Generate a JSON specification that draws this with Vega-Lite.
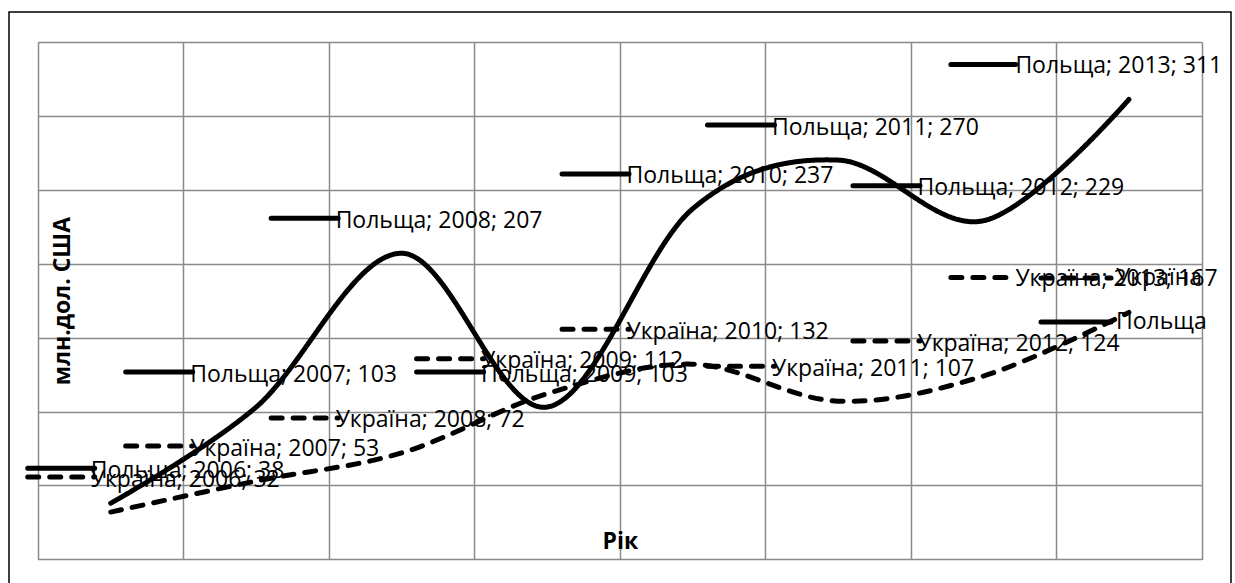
{
  "$schema": "https://vega.github.io/schema/vega-lite/v6.json",
  "width": 1222,
  "height": 575,
  "autosize": {"type": "none"},
  "padding": {"left": 9, "top": 12, "right": 4, "bottom": -4},
  "background": "white",
  "config": {
    "font": "Open Sans",
    "view": {"stroke": "black", "strokeWidth": 1.5},
    "axis": {"gridColor": "#8a8a8a", "gridWidth": 1.5, "gridOpacity": 1}
  },
  "data": {
    "values": [
      {"country": "Польща", "year": 2006, "value": 38, "label": "Польща; 2006; 38"},
      {"country": "Польща", "year": 2007, "value": 103, "label": "Польща; 2007; 103"},
      {"country": "Польща", "year": 2008, "value": 207, "label": "Польща; 2008; 207"},
      {"country": "Польща", "year": 2009, "value": 103, "label": "Польща; 2009; 103"},
      {"country": "Польща", "year": 2010, "value": 237, "label": "Польща; 2010; 237"},
      {"country": "Польща", "year": 2011, "value": 270, "label": "Польща; 2011; 270"},
      {"country": "Польща", "year": 2012, "value": 229, "label": "Польща; 2012; 229"},
      {"country": "Польща", "year": 2013, "value": 311, "label": "Польща; 2013; 311"},
      {"country": "Україна", "year": 2006, "value": 32, "label": "Україна; 2006; 32"},
      {"country": "Україна", "year": 2007, "value": 53, "label": "Україна; 2007; 53"},
      {"country": "Україна", "year": 2008, "value": 72, "label": "Україна; 2008; 72"},
      {"country": "Україна", "year": 2009, "value": 112, "label": "Україна; 2009; 112"},
      {"country": "Україна", "year": 2010, "value": 132, "label": "Україна; 2010; 132"},
      {"country": "Україна", "year": 2011, "value": 107, "label": "Україна; 2011; 107"},
      {"country": "Україна", "year": 2012, "value": 124, "label": "Україна; 2012; 124"},
      {"country": "Україна", "year": 2013, "value": 167, "label": "Україна; 2013; 167"}
    ]
  },
  "encoding": {
    "x": {
      "field": "year",
      "type": "quantitative",
      "scale": {"domain": [2005.5, 2013.5], "range": [29, 1192.6], "nice": false, "zero": false},
      "axis": {
        "orient": "top",
        "values": [2005.5, 2006.5, 2007.5, 2008.5, 2009.5, 2010.5, 2011.5, 2012.5, 2013.5],
        "grid": true, "domain": false, "ticks": false, "labels": false,
        "title": "Рік", "titleFont": "Open Sans", "titleFontSize": 23, "titleFontWeight": "bold",
        "titleColor": "black", "titleBaseline": "alphabetic", "titleY": 536
      }
    },
    "y": {
      "field": "value",
      "type": "quantitative",
      "scale": {"domain": [0, 350], "range": [547.4, 29.8], "nice": false, "zero": false},
      "axis": {
        "values": [0, 50, 100, 150, 200, 250, 300, 350],
        "grid": true, "domain": false, "ticks": false, "labels": false,
        "title": "млн.дол. США", "titleFont": "Open Sans", "titleFontSize": 23, "titleFontWeight": "bold",
        "titleColor": "black", "titleAngle": 270, "titleBaseline": "middle", "titleAlign": "center", "titleX": 53
      }
    }
  },
  "layer": [
    {
      "mark": {"type": "line", "interpolate": "cardinal", "strokeWidth": 5, "color": "black", "strokeCap": "round"},
      "encoding": {
        "strokeDash": {
          "field": "country", "type": "nominal",
          "scale": {"domain": ["Україна", "Польща"], "range": [[11, 11], [1, 0]]},
          "legend": {
            "orient": "none", "legendX": 1047, "legendY": 246, "title": null,
            "symbolType": "M-2,0L2,0", "symbolSize": 1225, "symbolStrokeWidth": 5, "symbolStrokeColor": "black",
            "labelFont": "Open Sans", "labelFontSize": 23, "labelColor": "black", "labelOffset": 20,
            "rowPadding": 12, "padding": 0, "labelLimit": 0,
            "encode": {"symbols": {"update": {"strokeCap": {"value": "round"}}}}
          }
        }
      }
    },
    {
      "transform": [{"filter": {"field": "year", "range": [2007, 2012]}}],
      "mark": {"type": "rule", "strokeWidth": 5, "color": "black", "strokeCap": "round", "xOffset": -130.5, "x2Offset": -63.5, "yOffset": -35},
      "encoding": {
        "x2": {"field": "year"},
        "strokeDash": {"field": "country", "type": "nominal"}
      }
    },
    {
      "transform": [{"filter": {"field": "year", "equal": 2006}}],
      "mark": {"type": "rule", "strokeWidth": 5, "color": "black", "strokeCap": "round", "xOffset": -83, "x2Offset": -16, "yOffset": -35},
      "encoding": {
        "x2": {"field": "year"},
        "strokeDash": {"field": "country", "type": "nominal"}
      }
    },
    {
      "transform": [{"filter": {"field": "year", "equal": 2013}}],
      "mark": {"type": "rule", "strokeWidth": 5, "color": "black", "strokeCap": "round", "xOffset": -178, "x2Offset": -113, "yOffset": -35},
      "encoding": {
        "x2": {"field": "year"},
        "strokeDash": {"field": "country", "type": "nominal"}
      }
    },
    {
      "transform": [{"filter": {"field": "year", "range": [2007, 2012]}}],
      "mark": {"type": "text", "align": "left", "baseline": "middle", "dx": -66, "dy": -32.5, "font": "Open Sans", "fontSize": 23, "color": "black"},
      "encoding": {"text": {"field": "label"}}
    },
    {
      "transform": [{"filter": {"field": "year", "equal": 2006}}],
      "mark": {"type": "text", "align": "left", "baseline": "middle", "dx": -20, "dy": -32.5, "font": "Open Sans", "fontSize": 23, "color": "black"},
      "encoding": {"text": {"field": "label"}}
    },
    {
      "transform": [{"filter": {"field": "year", "equal": 2013}}],
      "mark": {"type": "text", "align": "left", "baseline": "middle", "dx": -113.5, "dy": -33.5, "font": "Open Sans", "fontSize": 23, "color": "black"},
      "encoding": {"text": {"field": "label"}}
    }
  ]
}
